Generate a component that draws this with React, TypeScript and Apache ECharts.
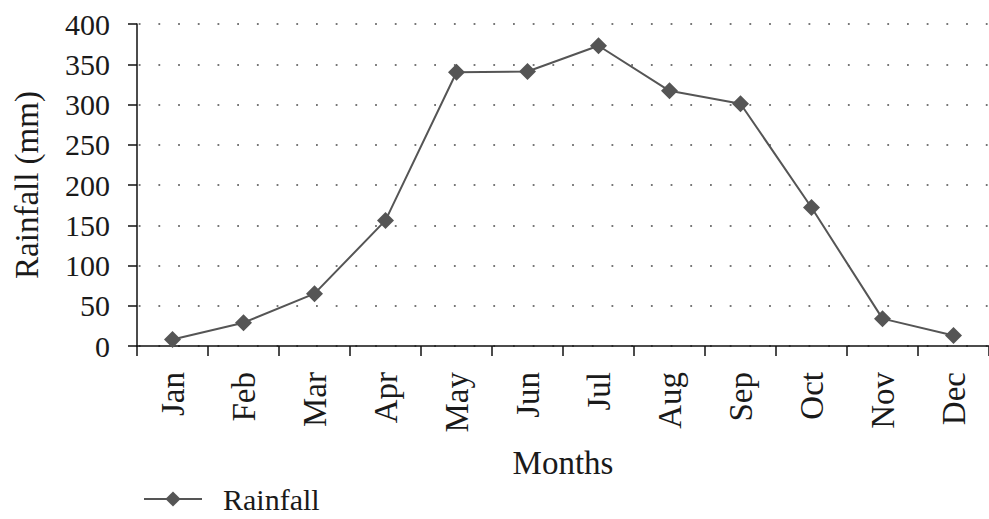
import React, { useEffect, useRef } from "react";
import * as echarts from "echarts";

const months = ["Jan", "Feb", "Mar", "Apr", "May", "Jun", "Jul", "Aug", "Sep", "Oct", "Nov", "Dec"];
const rainfall = [8, 29, 65, 156, 340, 341, 373, 317, 301, 172, 34, 13];
const yMin = 0;
const yMax = 400;
const yStep = 50;

const FONT = "Liberation Serif";
const INK = "#1a1a1a";

export default function App() {
  const ref = useRef<HTMLDivElement>(null);
  useEffect(() => {
    if (!ref.current) return;
    const chart = echarts.init(ref.current, undefined, { renderer: "svg" });
    chart.setOption({
      animation: false,
      backgroundColor: "#ffffff",
      textStyle: { fontFamily: FONT, color: INK },
      grid: { left: 137, right: -5, top: 24, bottom: 173, containLabel: false },
      legend: {
        left: 138,
        top: 479,
        itemWidth: 58,
        itemHeight: 19,
        itemGap: 10,
        data: ["Rainfall"],
        textStyle: { fontFamily: FONT, fontSize: 30, color: INK, padding: [0, 0, 0, 16] },
        selectedMode: false,
      },
      xAxis: {
        type: "category",
        data: months,
        boundaryGap: true,
        name: "Months",
        nameLocation: "middle",
        nameGap: 100,
        nameTextStyle: { fontFamily: FONT, fontSize: 33, color: INK },
        axisLine: { lineStyle: { color: "#111", width: 1.5 } },
        axisTick: { show: true, length: 10, lineStyle: { color: "#111", width: 1.5 } },
        axisLabel: { rotate: 90, margin: 26, fontFamily: FONT, fontSize: 33, color: INK, interval: 0 },
        splitLine: { show: false },
      },
      yAxis: {
        type: "value",
        min: yMin,
        max: yMax,
        interval: yStep,
        name: "Rainfall (mm)",
        nameLocation: "middle",
        nameGap: 94,
        nameRotate: 90,
        nameTextStyle: { fontFamily: FONT, fontSize: 33, color: INK },
        axisLine: { show: true, lineStyle: { color: "#111", width: 1.5 } },
        axisTick: { show: true, length: 9, lineStyle: { color: "#111", width: 1.5 } },
        axisLabel: { margin: 27, fontFamily: FONT, fontSize: 30, color: INK },
        splitLine: {
          show: true,
          lineStyle: { color: "#777", width: 1.8, type: [1.8, 17.9], dashOffset: 18.4 },
        },
      },
      series: [
        {
          name: "Rainfall",
          type: "line",
          data: rainfall,
          symbol: "diamond",
          symbolSize: 17,
          lineStyle: { color: "#555555", width: 2 },
          itemStyle: { color: "#555555" },
        },
      ],
    });
    return () => chart.dispose();
  }, []);
  return (
    <div
      ref={ref}
      style={{ position: "absolute", left: 0, top: 0, width: 989, height: 519 }}
    />
  );
}
